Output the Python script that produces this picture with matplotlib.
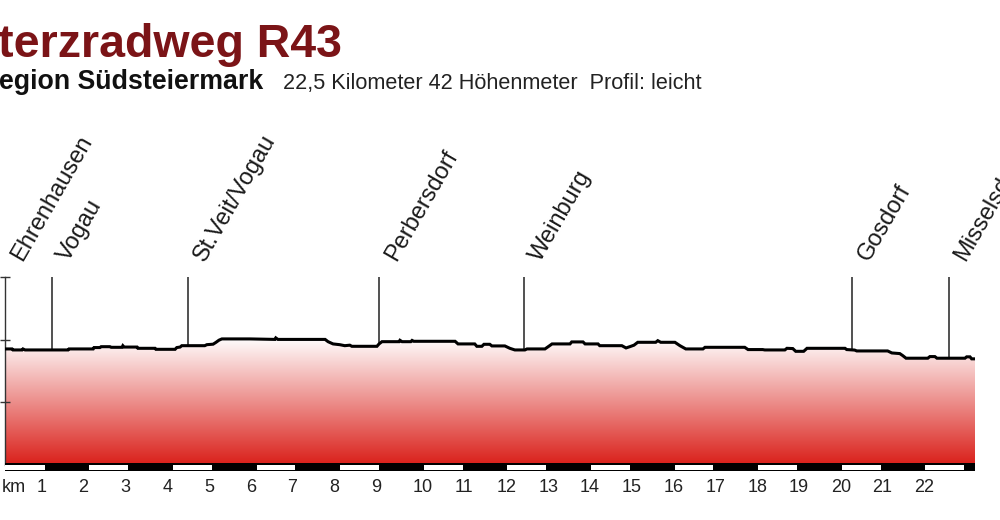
import numpy as np
import matplotlib
matplotlib.use("Agg")
import matplotlib.pyplot as plt
from matplotlib.transforms import blended_transform_factory
from matplotlib.patches import Rectangle

plt.rcParams['font.family'] = ['Liberation Sans', 'DejaVu Sans']

# ---------------- data ----------------
title_text = "terzradweg R43"
subtitle_bold = "egion Südsteiermark"
subtitle_info = "22,5 Kilometer 42 Höhenmeter  Profil: leicht"

dist_km = [0.00, 0.17, 0.19, 0.41, 0.43, 0.48, 1.51, 1.53, 2.11, 2.13, 2.27, 2.30,
           2.51, 2.54, 2.80, 2.82, 2.85, 3.16, 3.18, 3.59, 3.61, 4.07, 4.11, 4.19,
           4.23, 4.78, 4.83, 4.98, 5.05, 5.12, 5.19, 5.86, 6.46, 6.48, 6.53, 7.66,
           7.73, 7.85, 8.01, 8.13, 8.25, 8.30, 8.90, 8.95, 9.02, 9.43, 9.45, 9.50,
           9.71, 9.74, 9.78, 10.77, 10.84, 11.24, 11.29, 11.41, 11.46, 11.60, 11.65,
           11.96, 12.08, 12.20, 12.44, 12.49, 12.92, 13.01, 13.09, 13.52, 13.56,
           13.83, 13.88, 14.19, 14.23, 14.76, 14.86, 14.95, 15.05, 15.14, 15.57,
           15.62, 15.69, 16.03, 16.15, 16.29, 16.70, 16.75, 17.70, 17.78, 18.13,
           18.18, 18.66, 18.71, 18.85, 18.92, 19.11, 19.19, 20.10, 20.14, 20.33,
           20.38, 21.12, 21.22, 21.41, 21.48, 21.56, 22.08, 22.13, 22.25, 22.30,
           22.97, 23.01, 23.09, 23.13, 23.21]
elev_m = [252.6, 252.6, 251.8, 251.8, 252.6, 251.8, 251.8, 252.6, 252.6, 253.7, 253.7, 254.4,
          254.4, 253.9, 253.9, 255.2, 254.1, 254.1, 253.1, 253.1, 252.3, 252.3, 253.7, 254.1,
          255.2, 255.2, 256.0, 256.4, 257.9, 259.6, 260.6, 260.6, 260.2, 261.4, 260.2, 260.2,
          258.4, 256.6, 256.0, 255.2, 255.6, 254.7, 254.7, 256.6, 258.4, 258.4, 259.5, 258.4,
          258.4, 259.4, 258.7, 258.7, 256.6, 256.6, 254.7, 254.7, 256.3, 256.3, 255.0,
          255.0, 253.1, 251.8, 251.8, 252.6, 252.6, 254.7, 256.6, 256.6, 258.2,
          258.2, 256.6, 256.6, 255.2, 255.2, 253.4, 254.4, 255.6, 257.9, 257.9,
          259.2, 257.9, 257.9, 255.2, 252.6, 252.6, 253.9, 253.9, 252.1, 252.1,
          251.8, 251.8, 253.1, 252.9, 250.7, 250.7, 253.1, 253.1, 252.1, 251.7,
          251.0, 251.0, 249.4, 248.9, 247.3, 245.2, 245.2, 246.5, 246.5, 245.2,
          245.2, 246.3, 246.3, 244.7, 244.7]

places = ["Ehrenhausen", "Vogau", "St.Veit/Vogau", "Perbersdorf", "Weinburg",
          "Gosdorf", "Misselsdorf"]
place_km = [0.0, 1.12, 4.38, 8.95, 12.42, 20.26, 22.58]

km_ticks = list(range(1, 23))
elev_ticks = [210, 260, 310]

# ---------------- figure ----------------
W, H = 1000, 520
fig = plt.figure(figsize=(W / 100, H / 100), dpi=100)
fig.patch.set_facecolor('white')

ax_l, ax_r, ax_t, ax_b = 5, 975, 277, 465
ax = fig.add_axes([ax_l / W, 1 - ax_b / H, (ax_r - ax_l) / W, (ax_b - ax_t) / H])
xmax = dist_km[-1]
ymin, ymax = 160, 310

# gradient fill under profile
poly = ax.fill_between(dist_km, elev_m, ymin, color='none', lw=0)
top_c = np.array([1.0, 1.0, 1.0])
bot_c = np.array([218, 32, 26]) / 255.0
t = np.linspace(0, 1, 256)[:, None]
grad = (top_c[None, :] * (1 - t) + bot_c[None, :] * t)[:, None, :]
im = ax.imshow(grad, extent=[0, xmax, ymin, 262], aspect='auto', origin='upper',
               interpolation='bilinear', zorder=1)
im.set_clip_path(poly.get_paths()[0], transform=ax.transData)

# profile line
ax.plot(dist_km, elev_m, color='black', lw=2.2, solid_joinstyle='miter', zorder=3)

# place markers
lab_tr = blended_transform_factory(ax.transData, ax.transAxes)
for name, km in zip(places, place_km):
    e = np.interp(km, dist_km, elev_m)
    if km > 0:
        ax.plot([km, km], [e, ymax], color='#222222', lw=1.1, zorder=2)
    ax.text(km + 0.40, 1.078, name, transform=lab_tr,
            rotation=60, rotation_mode='anchor', ha='left', va='baseline',
            fontsize=17, color='#1a1a1a', clip_on=False)

ax.set_xlim(0, xmax)
ax.set_ylim(ymin, ymax)
for s in ['top', 'right', 'bottom']:
    ax.spines[s].set_visible(False)
ax.spines['left'].set_color('#333333')
ax.spines['left'].set_linewidth(1.0)
ax.set_yticks(elev_ticks)
ax.set_yticklabels([])
ax.tick_params(axis='y', direction='inout', length=7, width=1.0, color='#333333')
ax.set_xticks([])

# km scale bar below the axes
bt = blended_transform_factory(ax.transData, fig.transFigure)
ax.add_artist(Rectangle((0, 1 - 471 / H), xmax, 8 / H, transform=bt,
                        facecolor='black', edgecolor='none', zorder=5, clip_on=False))
for k in range(0, int(np.ceil(xmax)), 2):
    x0 = k + (0.0 if k == 0 else 0.02)
    x1 = min(k + 0.95, xmax)
    ax.add_artist(Rectangle((x0, 1 - 470 / H), x1 - x0, 5 / H, transform=bt,
                            facecolor='white', edgecolor='none', zorder=6, clip_on=False))

lab_y = 1 - 488 / H
for k in km_ticks:
    ax.text(k - 0.24, lab_y, str(k), transform=bt, ha='left', va='center',
            fontsize=13, color='#222222', clip_on=False)
fig.text(2 / W, lab_y, "km", ha='left', va='center', fontsize=13, color='#222222')

# titles
fig.text(-2 / W, 1 - 57 / H, title_text, ha='left', va='baseline', fontsize=33.5,
         fontweight='bold', color='#7b1417')
fig.text(-1 / W, 1 - 89 / H, subtitle_bold, ha='left', va='baseline', fontsize=19.3,
         fontweight='bold', color='#111111')
fig.text(283 / W, 1 - 89 / H, subtitle_info, ha='left', va='baseline', fontsize=15.6,
         color='#222222')

fig.savefig('out.png', dpi=100, facecolor='white')
